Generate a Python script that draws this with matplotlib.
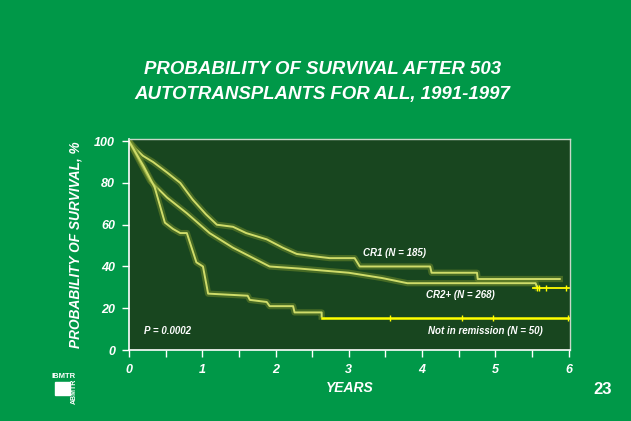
import matplotlib.pyplot as plt
import matplotlib.patheffects as pe

# Survival curves (years, % surviving)
cr1_t = [0, 0.1, 0.19, 0.33, 0.52, 0.70, 0.87, 1.05, 1.2, 1.42, 1.6, 1.88, 2.1, 2.29,
         2.5, 2.74, 3.08, 3.15, 4.11, 4.13, 4.75, 4.76, 5.88]
cr1_s = [100, 96, 93, 90, 85, 80, 72, 65, 60, 59, 56, 53, 49, 46,
         45, 44, 44, 40, 40, 37, 37, 34, 34]

cr2_t = [0, 0.15, 0.29, 0.52, 0.79, 1.10, 1.42, 1.92, 2.33, 3.0, 3.45, 3.8, 5.55, 5.57]
cr2_s = [100, 90, 81, 73, 65.5, 56, 49, 40, 39, 37, 34.5, 32, 32, 30]
cr2_tail_t = [5.52, 6.0]
cr2_tail_s = 29.7
cr2_cens = [5.57, 5.59, 5.69, 5.96]

nir_t = [0, 0.2, 0.35, 0.49, 0.60, 0.70, 0.79, 0.92, 1.01, 1.08, 1.62, 1.65, 1.88,
         1.92, 2.24, 2.26, 2.63, 2.63]
nir_s = [100, 88, 78, 61, 58, 56, 56, 42, 40, 27, 26, 24, 23,
         21, 21, 18, 18, 16]
nir_tail_t = [2.63, 6.0]
nir_tail_s = 15.5
nir_cens = [3.56, 4.54, 4.97, 5.99]

bg = '#009848'
fig = plt.figure(figsize=(6.31, 4.21), dpi=100, facecolor=bg)
ax = fig.add_axes([0.2044, 0.1686, 0.699, 0.501])
ax.set_facecolor('#18461f')

glow = [pe.Stroke(linewidth=4.5, foreground='#6f8a2a', alpha=0.55), pe.Normal()]
for t, s in [(cr1_t, cr1_s), (cr2_t, cr2_s), (nir_t, nir_s)]:
    ax.plot(t, s, color='#cfdc6a', lw=1.4, path_effects=glow)

yellow = '#ffff00'
ax.plot(cr2_tail_t, [cr2_tail_s] * 2, color=yellow, lw=1.3)
ax.plot(cr2_cens, [cr2_tail_s] * len(cr2_cens), '|', color=yellow, ms=5, mew=1)
ax.plot(nir_tail_t, [nir_tail_s] * 2, color=yellow, lw=1.8)
ax.plot(nir_cens, [nir_tail_s] * len(nir_cens), '|', color=yellow, ms=5, mew=1)

ax.set_xlim(0, 6.02)
ax.set_ylim(0, 101)
ax.set_xticks([0, 1, 2, 3, 4, 5, 6])
ax.set_xticks([0.5, 1.5, 2.5, 3.5, 4.5, 5.5], minor=True)
ax.set_yticks([0, 20, 40, 60, 80, 100])
fnt = dict(family='Liberation Sans', weight='bold', style='italic', color='white')
ax.set_xticklabels([str(v) for v in range(7)], fontsize=9, **fnt)
ax.set_yticklabels(['0', '20', '40', '60', '80', '100'], fontsize=9, **fnt)
ax.tick_params(which='both', colors='white', length=5, width=1, pad=5)
for side in ['left', 'bottom']:
    ax.spines[side].set_color('white')
    ax.spines[side].set_linewidth(1.2)
for side in ['top', 'right']:
    ax.spines[side].set_color('#c8d8c8')
    ax.spines[side].set_linewidth(1)

ax.text(3.19, 46.5, 'CR1 (N = 185)', fontsize=7, va='center', **fnt)
ax.text(4.05, 26.3, 'CR2+ (N = 268)', fontsize=7, va='center', **fnt)
ax.text(4.08, 9.1, 'Not in remission (N = 50)', fontsize=7, va='center', **fnt)
ax.text(0.2, 9.1, 'P = 0.0002', fontsize=7, va='center', **fnt)

ax.set_xlabel('YEARS', fontsize=10, labelpad=4, **fnt)
ax.set_ylabel('PROBABILITY OF SURVIVAL, %', fontsize=9.8, labelpad=8, **fnt)

fig.text(0.511, 1 - 70 / 421, 'PROBABILITY OF SURVIVAL AFTER 503', ha='center', va='center',
         fontsize=13.4, **fnt)
fig.text(0.511, 1 - 94 / 421, 'AUTOTRANSPLANTS FOR ALL, 1991-1997', ha='center', va='center',
         fontsize=13.4, **fnt)
fig.text(603 / 631, 1 - 389 / 421, '23', ha='center', va='center', fontsize=12,
         family='Liberation Sans', weight='bold', color='white')

# IBMTR / ABMTR logo
fig.patches.append(plt.Rectangle((55 / 631, 1 - 395 / 421), 15 / 631, 13 / 421,
                                 transform=fig.transFigure, color='white'))
fig.text(51 / 631, 1 - 376 / 421, 'IBMTR', fontsize=5.5, family='Liberation Sans',
         weight='bold', color='white', va='center', ha='left')
fig.text(74 / 631, 1 - 391 / 421, 'ABMTR', fontsize=5, family='Liberation Sans',
         weight='bold', color='white', va='center', ha='center', rotation=90)

fig.savefig('out.png', dpi=100, facecolor=bg)
